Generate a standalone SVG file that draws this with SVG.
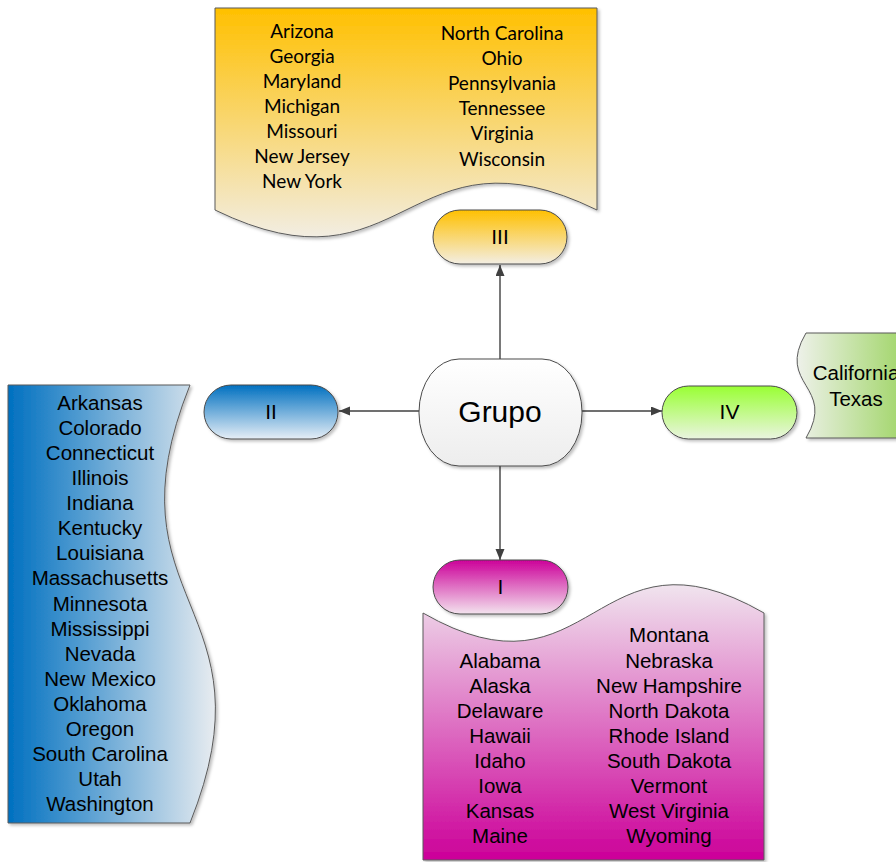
<svg xmlns="http://www.w3.org/2000/svg" width="896" height="862" viewBox="0 0 896 862">
<style>
.t{font-family:"Liberation Sans",Arial,sans-serif;font-size:20.5px;fill:#000;text-anchor:middle}
.c{font-family:Lato,"Open Sans",sans-serif;font-size:19px;fill:#000;text-anchor:middle}
.lbl{font-family:"Liberation Sans",Arial,sans-serif;font-size:21px;fill:#000;text-anchor:middle}
.doc{stroke:#5a5a5a;stroke-width:1;filter:url(#sh)}
.pill{stroke:#4a4a4a;stroke-width:1;filter:url(#sh)}
.con{stroke:#404040;stroke-width:1.4;fill:none;marker-end:url(#arr)}
</style>
<defs>
<filter id="sh" x="-10%" y="-10%" width="125%" height="125%">
<feDropShadow dx="2" dy="2" stdDeviation="1.5" flood-color="#000" flood-opacity="0.25"/>
</filter>
<marker id="arr" markerWidth="12" markerHeight="10" refX="11" refY="4.5" orient="auto" markerUnits="userSpaceOnUse">
<path d="M0,0 L11,4.5 L0,9 Z" fill="#404040"/>
</marker>
<linearGradient id="gOr" x1="0" y1="0" x2="0" y2="1"><stop offset="0" stop-color="#FFC000"/><stop offset="1" stop-color="#F2EDE2"/></linearGradient>
<linearGradient id="gBl" x1="0" y1="0" x2="1" y2="0"><stop offset="0" stop-color="#0070C0"/><stop offset="1" stop-color="#E8ECF0"/></linearGradient>
<linearGradient id="gGr" x1="0" y1="0" x2="1" y2="0"><stop offset="0" stop-color="#EEF1EA"/><stop offset="1" stop-color="#92D050"/></linearGradient>
<linearGradient id="gMg" x1="0" y1="0" x2="0" y2="1"><stop offset="0" stop-color="#F0E4EE"/><stop offset="1" stop-color="#CC0099"/></linearGradient>
<linearGradient id="pOr" x1="0" y1="0" x2="0" y2="1"><stop offset="0" stop-color="#FFC000"/><stop offset="1" stop-color="#F3EEE3"/></linearGradient>
<linearGradient id="pBl" x1="0" y1="0" x2="0" y2="1"><stop offset="0" stop-color="#0070C0"/><stop offset="1" stop-color="#E6EEF6"/></linearGradient>
<linearGradient id="pGr" x1="0" y1="0" x2="0" y2="1"><stop offset="0" stop-color="#99FF33"/><stop offset="1" stop-color="#EAF4E0"/></linearGradient>
<linearGradient id="pMg" x1="0" y1="0" x2="0" y2="1"><stop offset="0" stop-color="#CC0099"/><stop offset="1" stop-color="#F3E3EE"/></linearGradient>
<linearGradient id="pWh" x1="0" y1="0" x2="0" y2="1"><stop offset="0" stop-color="#FFFFFF"/><stop offset="1" stop-color="#EDEDED"/></linearGradient>
</defs>

<g id="connectors">
<line class="con" x1="500" y1="359" x2="500" y2="265"/>
<line class="con" x1="419" y1="411" x2="339" y2="411"/>
<line class="con" x1="582" y1="411" x2="662" y2="411"/>
<line class="con" x1="500" y1="466" x2="500" y2="560"/>
</g>

<g id="doc-III">
<path class="doc" fill="url(#gOr)" d="M215,8 H597 V210 C406,117 406,303 215,210 Z"/>
<text class="c" x="302" y="37.5">Arizona</text>
<text class="c" x="302" y="62.6">Georgia</text>
<text class="c" x="302" y="87.7">Maryland</text>
<text class="c" x="302" y="112.8">Michigan</text>
<text class="c" x="302" y="137.9">Missouri</text>
<text class="c" x="302" y="163">New Jersey</text>
<text class="c" x="302" y="188.1">New York</text>
<text class="c" x="502" y="40">North Carolina</text>
<text class="c" x="502" y="65.1">Ohio</text>
<text class="c" x="502" y="90.2">Pennsylvania</text>
<text class="c" x="502" y="115.3">Tennessee</text>
<text class="c" x="502" y="140.4">Virginia</text>
<text class="c" x="502" y="165.5">Wisconsin</text>
</g>

<g id="node-III">
<rect class="pill" x="433" y="210" width="134" height="54" rx="27" ry="27" fill="url(#pOr)"/>
<text class="lbl" x="500" y="244">III</text>
</g>

<g id="node-Grupo">
<rect class="pill" x="419" y="359" width="163" height="107" rx="40" ry="53" fill="url(#pWh)"/>
<text class="t" x="500" y="422" style="font-size:30px">Grupo</text>
</g>

<g id="node-II">
<rect class="pill" x="204" y="385" width="134" height="54" rx="27" ry="27" fill="url(#pBl)"/>
<text class="lbl" x="271" y="419">II</text>
</g>

<g id="doc-II">
<path class="doc" fill="url(#gBl)" d="M8,385 H190 C102,604 278,604 190,823 H8 Z"/>
<text class="t" x="100" y="410">Arkansas</text>
<text class="t" x="100" y="435.1">Colorado</text>
<text class="t" x="100" y="460.1">Connecticut</text>
<text class="t" x="100" y="485.2">Illinois</text>
<text class="t" x="100" y="510.2">Indiana</text>
<text class="t" x="100" y="535.3">Kentucky</text>
<text class="t" x="100" y="560.4">Louisiana</text>
<text class="t" x="100" y="585.4">Massachusetts</text>
<text class="t" x="100" y="610.5">Minnesota</text>
<text class="t" x="100" y="635.5">Mississippi</text>
<text class="t" x="100" y="660.6">Nevada</text>
<text class="t" x="100" y="685.7">New Mexico</text>
<text class="t" x="100" y="710.7">Oklahoma</text>
<text class="t" x="100" y="735.8">Oregon</text>
<text class="t" x="100" y="760.8">South Carolina</text>
<text class="t" x="100" y="785.9">Utah</text>
<text class="t" x="100" y="811">Washington</text>
</g>

<g id="node-IV">
<rect class="pill" x="662" y="386" width="135" height="53" rx="26.5" ry="26.5" fill="url(#pGr)"/>
<text class="lbl" x="729.5" y="419">IV</text>
</g>

<g id="doc-IV">
<path class="doc" fill="url(#gGr)" d="M806,333 H925 V438 H806 C837,385.5 775,385.5 806,333 Z"/>
<text class="t" x="856" y="380">California</text>
<text class="t" x="856" y="405.5">Texas</text>
</g>

<g id="node-I">
<rect class="pill" x="433" y="560" width="135" height="54" rx="27" ry="27" fill="url(#pMg)"/>
<text class="lbl" x="500.5" y="594">I</text>
</g>

<g id="doc-I">
<path class="doc" fill="url(#gMg)" d="M423,613 C593.5,711 593.5,515 764,613 V860 H423 Z"/>
<text class="t" x="500" y="667.5">Alabama</text>
<text class="t" x="500" y="692.6">Alaska</text>
<text class="t" x="500" y="717.7">Delaware</text>
<text class="t" x="500" y="742.8">Hawaii</text>
<text class="t" x="500" y="767.9">Idaho</text>
<text class="t" x="500" y="793">Iowa</text>
<text class="t" x="500" y="818.1">Kansas</text>
<text class="t" x="500" y="843.2">Maine</text>
<text class="t" x="669" y="642.4">Montana</text>
<text class="t" x="669" y="667.5">Nebraska</text>
<text class="t" x="669" y="692.6">New Hampshire</text>
<text class="t" x="669" y="717.7">North Dakota</text>
<text class="t" x="669" y="742.8">Rhode Island</text>
<text class="t" x="669" y="767.9">South Dakota</text>
<text class="t" x="669" y="793">Vermont</text>
<text class="t" x="669" y="818.1">West Virginia</text>
<text class="t" x="669" y="843.2">Wyoming</text>
</g>
</svg>
